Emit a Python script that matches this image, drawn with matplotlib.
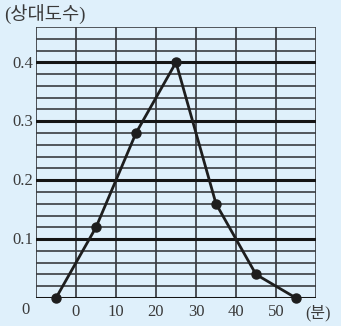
import numpy as np
import matplotlib
matplotlib.use('Agg')
import matplotlib.pyplot as plt

# 계급값(분) / 상대도수
minutes = [-5, 5, 15, 25, 35, 45, 55]
rel_freq = [0.0, 0.12, 0.28, 0.40, 0.16, 0.04, 0.0]
x_ticks = [0, 10, 20, 30, 40, 50]
y_ticks = [0.1, 0.2, 0.3, 0.4]

bg = '#dff0fb'
fonts = ['Liberation Serif', 'Noto Sans CJK KR']
txt = '#3a3a3a'

fig = plt.figure(figsize=(3.41, 3.26), dpi=100, facecolor=bg)
ax = fig.add_axes([36/341, 28/326, 280/341, 271/326])
ax.set_facecolor(bg)
ax.set_xlim(-10, 60)
ax.set_ylim(0, 0.46)

# grid
for v in np.arange(-10, 61, 10):
    ax.axvline(v, color='#4a4f55', lw=1.4, zorder=1)
for i in range(0, 24):
    h = i * 0.02
    major = (i % 5 == 0)
    ax.axhline(h, color='#151515' if major else '#3a3d40',
               lw=2.2 if major else 1.2, zorder=1)

ax.plot(minutes, rel_freq, color='#1e1e1e', lw=2, marker='o', ms=6.5,
        zorder=3, clip_on=False)

for s in ax.spines.values():
    s.set_visible(False)
ax.set_xticks([])
ax.set_yticks([])

for t in x_ticks:
    ax.text(t, -0.011, str(t), ha='center', va='top', fontsize=12,
            family=fonts, color=txt)
for t in y_ticks:
    ax.text(-10.8, t - 0.002, f'{t:.1f}', ha='right', va='center', fontsize=12,
            family=fonts, color=txt)
ax.text(-11.5, -0.007, '0', ha='right', va='top', fontsize=12,
        family=fonts, color=txt)
ax.text(57.2, -0.011, '(분)', ha='left', va='top', fontsize=11.5,
        family=fonts, color=txt)
fig.text(4/341, 1 - 15/326, '(상대도수)', ha='left', va='center',
         fontsize=13.5, family=fonts, color=txt)

fig.savefig('out.png', dpi=100, facecolor=bg)
